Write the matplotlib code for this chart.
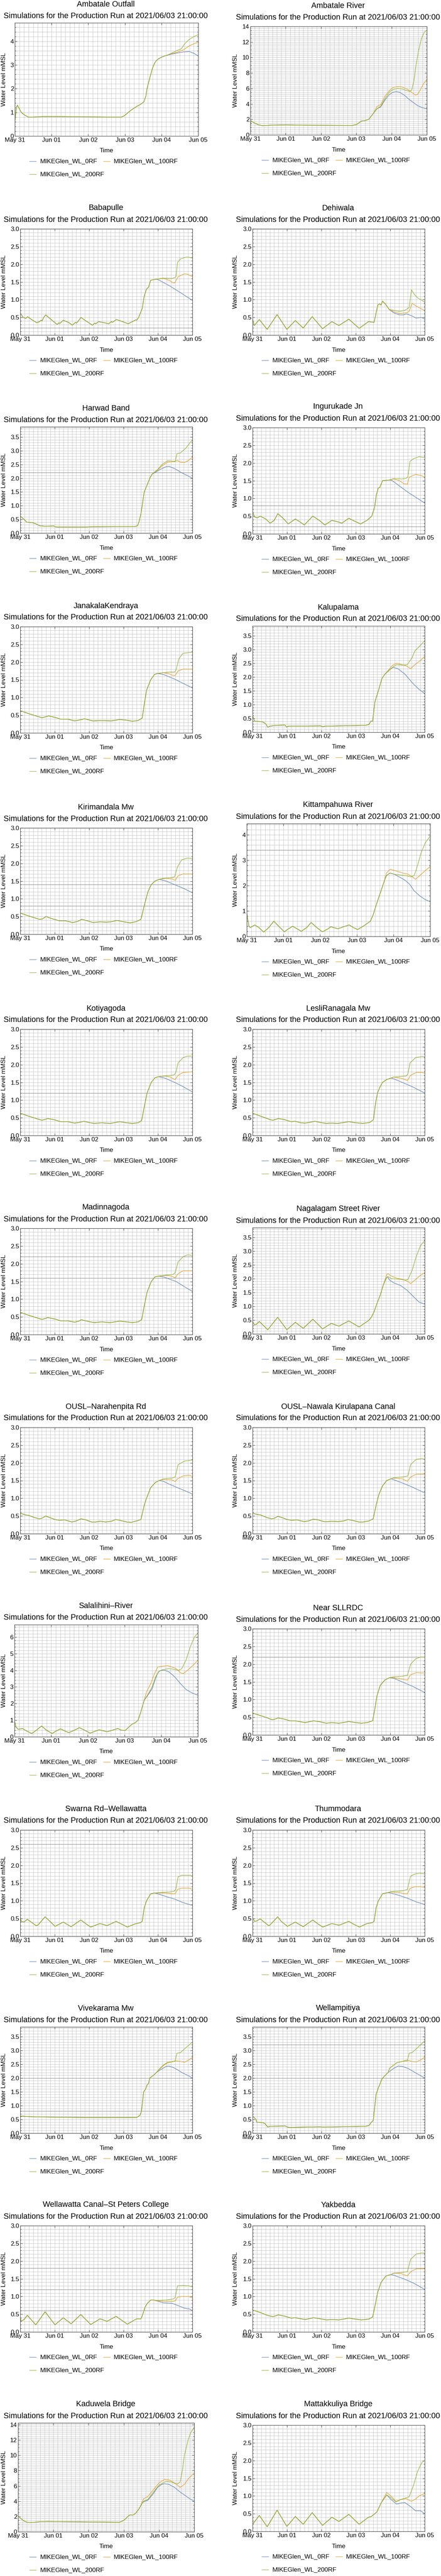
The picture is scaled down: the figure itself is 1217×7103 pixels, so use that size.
import matplotlib
matplotlib.use('Agg')
import matplotlib.pyplot as plt
from matplotlib.lines import Line2D
from matplotlib.ticker import MultipleLocator, FormatStrFormatter
import numpy as np

plt.rcParams['font.family'] = ['Liberation Sans', 'DejaVu Sans']

W, H = 1217, 7103

SUBTITLE = 'Simulations for the Production Run at 2021/06/03 21:00:00'
SERIES_LABELS = ['MIKEGlen_WL_0RF', 'MIKEGlen_WL_100RF', 'MIKEGlen_WL_200RF']
TICK_HOURS = [0, 24, 48, 72, 96, 120]
TICK_LABELS = ['May 31', 'Jun 01', 'Jun 02', 'Jun 03', 'Jun 04', 'Jun 05']

STATIONS = ['Ambatale Outfall', 'Ambatale River', 'Babapulle', 'Dehiwala',
            'Harwad Band', 'Ingurukade Jn', 'JanakalaKendraya', 'Kalupalama',
            'Kirimandala Mw', 'Kittampahuwa River', 'Kotiyagoda', 'LesliRanagala Mw',
            'Madinnagoda', 'Nagalagam Street River', 'OUSL\u2013Narahenpita Rd',
            'OUSL\u2013Nawala Kirulapana Canal', 'Salalihini\u2013River', 'Near SLLRDC',
            'Swarna Rd\u2013Wellawatta', 'Thummodara', 'Vivekarama Mw', 'Wellampitiya',
            'Wellawatta Canal\u2013St Peters College', 'Yakbedda', 'Kaduwela Bridge',
            'Mattakkuliya Bridge']

# y axis top and major tick step per station
Y_TOP = [4.78, 14, 3, 3, 3.87, 3, 3, 3.85, 3, 4.45, 3, 3, 3, 3.85, 3, 3, 6.74, 3,
         3, 3, 3.85, 3.85, 3, 3, 14.24, 3]
Y_STEP = [1, 2, 0.5, 0.5, 0.5, 0.5, 0.5, 0.5, 0.5, 1, 0.5, 0.5, 0.5, 0.5, 0.5, 0.5,
          1, 0.5, 0.5, 0.5, 0.5, 0.5, 0.5, 0.5, 2, 0.5]

# darker reference levels drawn over the grid
LEVELS = [[], [], [0.2], [], [2.2], [0.8, 0.2], [], [], [1.4, 0.8], [3.4], [1.2], [1.2],
          [2.2, 1.6], [], [], [], [], [2.2], [2.6], [], [2.0, 0.8], [3.2, 2.0],
          [1.8, 1.2, 0.6], [1.8, 1.2], [], []]

# water levels (hour since May 31 00:00, mMSL); base is shared by all three runs
ambatale_outfall_base = [(0, 0.64), (0.5, 0.9), (1.0, 1.2), (1.7, 1.3), (2.5, 1.2), (4.2, 1.0),
    (6.5, 0.88), (8.8, 0.8), (12, 0.8), (18, 0.82), (30, 0.82), (45, 0.81), (60, 0.8),
    (69.7, 0.8), (71.5, 0.85), (73.4, 0.95), (76.2, 1.1), (79.8, 1.25), (82.6, 1.35),
    (84.5, 1.45), (85.8, 1.7), (86.5, 2.0), (88.5, 2.5), (90, 2.85), (91.2, 3.05),
    (92.5, 3.18), (94, 3.26), (96, 3.33), (98, 3.38), (100, 3.42)]
ambatale_outfall_0rf = [(105.7, 3.5), (110.3, 3.55), (114, 3.57), (117, 3.5), (120, 3.38)]
ambatale_outfall_100rf = [(101, 3.45), (106.6, 3.55), (109.8, 3.62), (114, 3.8), (117.2, 3.9), (120, 3.96)]
ambatale_outfall_200rf = [(102, 3.48), (105.7, 3.6), (108.9, 3.68), (111.2, 3.9), (114, 4.07),
    (117.2, 4.2), (120, 4.28)]

ambatale_river_base = [(0, 1.0), (0.3, 1.8), (3.2, 1.5), (5.5, 1.3), (8, 1.2), (10.8, 1.22),
    (17.6, 1.28), (24.3, 1.3), (36.8, 1.25), (69.4, 1.22), (72.3, 1.35), (75.6, 1.8),
    (78, 1.85), (80.4, 2.0), (83.3, 2.7)]
ambatale_river_0rf = [(86.2, 3.4), (88.6, 3.6), (91.5, 4.5), (94.4, 5.2), (96.8, 5.5), (99.2, 5.6),
    (101.6, 5.5), (104.9, 5.1), (107.8, 4.6), (110.7, 4.2), (113.6, 3.8), (116.4, 3.55), (120, 3.35)]
ambatale_river_100rf = [(86.2, 3.7), (88.6, 3.9), (91.5, 5.0), (94.4, 5.7), (96.8, 6.1), (100.1, 6.25),
    (103, 6.2), (106.8, 5.9), (109.7, 5.5), (112.1, 5.15), (113.6, 5.2), (115.5, 5.8),
    (117.4, 6.5), (119.3, 7.0), (120, 7.2)]
ambatale_river_200rf = [(86.2, 3.4), (88.6, 3.7), (91.5, 4.7), (94.4, 5.5), (96.8, 5.85), (100.1, 6.0),
    (103, 5.95), (105.9, 5.75), (108.3, 5.6), (109.7, 5.8), (111.2, 7.0), (112.6, 9.0),
    (114.5, 11.0), (116.4, 12.5), (118.4, 13.3), (120, 13.5)]

babapulle_base = [(0, 0.62), (2, 0.5), (3.9, 0.47), (5.1, 0.52), (7.5, 0.45), (11.4, 0.35),
    (13.4, 0.38), (14.5, 0.42), (15.2, 0.4), (16.3, 0.5), (17.7, 0.57), (21.2, 0.45), (25.7, 0.3),
    (27, 0.35), (27.6, 0.33), (30, 0.42), (34, 0.35), (36.3, 0.28), (38.5, 0.36), (39.2, 0.34),
    (40.9, 0.42), (42.2, 0.5), (45.8, 0.4), (50.3, 0.28), (52, 0.34), (52.6, 0.32), (54.6, 0.38),
    (58.5, 0.35), (61.5, 0.32), (63.5, 0.38), (64.2, 0.36), (67, 0.44), (71.3, 0.38), (75.2, 0.32),
    (79.1, 0.4), (80.5, 0.43), (81.2, 0.42), (82.5, 0.5), (85, 0.75), (86.4, 1.1), (88, 1.3),
    (89.4, 1.35), (90.9, 1.55), (94.9, 1.58)]
babapulle_0rf = [(96.8, 1.55), (103.7, 1.4), (111.6, 1.2), (120, 0.98)]
babapulle_100rf = [(99.8, 1.6), (103.7, 1.55), (106.3, 1.48), (107.6, 1.47), (110, 1.65),
    (114.5, 1.73), (116.5, 1.72), (120, 1.65)]
babapulle_200rf = [(99.8, 1.61), (105.7, 1.6), (107.6, 1.62), (108.6, 1.65), (109.6, 2.05),
    (111.6, 2.15), (115.5, 2.2), (117.4, 2.2), (120, 2.17)]

dehiwala_base = [(0, 0.45), (1.2, 0.27), (4.7, 0.44), (10.2, 0.16), (17.1, 0.58), (23.9, 0.16),
    (29.8, 0.41), (35.3, 0.2), (41.6, 0.52), (48.8, 0.18), (55.3, 0.38), (60.2, 0.27),
    (67.1, 0.45), (74.3, 0.19), (80.8, 0.38), (84.7, 0.36), (87.3, 0.85), (88.6, 0.88),
    (89.6, 0.85), (90.6, 0.96), (93, 0.86), (95.3, 0.72)]
dehiwala_0rf = [(98.4, 0.63), (102.4, 0.57), (105.3, 0.57), (107.3, 0.6), (110.6, 0.55),
    (114.1, 0.48), (117.7, 0.5), (120, 0.45)]
dehiwala_100rf = [(98.4, 0.66), (102.4, 0.61), (107.3, 0.63), (109.2, 0.67), (111.2, 0.9),
    (114.1, 0.82), (117.1, 0.75), (120, 0.7)]
dehiwala_200rf = [(98.4, 0.7), (102.4, 0.67), (106.3, 0.7), (109.2, 0.78), (110.8, 1.28),
    (112.8, 1.15), (115.1, 1.05), (118.1, 0.98), (120, 0.93)]

harwad_band_base = [(0, 0.62), (2.6, 0.5), (4.5, 0.4), (8.4, 0.38), (10.4, 0.35), (13.4, 0.27),
    (17.3, 0.25), (23.2, 0.26), (25.1, 0.22), (46.7, 0.22), (48.7, 0.23), (80.1, 0.24),
    (81.7, 0.27), (82.7, 0.4), (84.1, 0.7), (86.4, 1.5), (88.4, 1.75), (90.3, 2.0), (91.9, 2.15)]
harwad_band_0rf = [(93.9, 2.2), (96.8, 2.3), (101.7, 2.42), (103.7, 2.43), (107.6, 2.35),
    (112.5, 2.2), (120, 2.0)]
harwad_band_100rf = [(95.8, 2.3), (98.8, 2.45), (102.7, 2.58), (106.6, 2.6), (109.6, 2.65),
    (111.6, 2.58), (114.5, 2.57), (117.4, 2.65), (120, 2.77)]
harwad_band_200rf = [(95.8, 2.32), (98.8, 2.5), (102.7, 2.63), (106.6, 2.62), (108, 2.6),
    (109.2, 2.9), (111.6, 2.92), (115.5, 3.1), (118.4, 3.3), (120, 3.38)]

ingurukade_base = [(0, 0.62), (1.4, 0.48), (3.3, 0.45), (5.3, 0.5), (9.2, 0.42), (12.2, 0.3),
    (15.1, 0.38), (17.6, 0.57), (21, 0.45), (24.9, 0.28), (29.8, 0.42), (33.3, 0.33),
    (36.1, 0.25), (39.6, 0.4), (42, 0.5), (46.5, 0.38), (50.4, 0.25), (55.3, 0.38),
    (60.2, 0.33), (62.2, 0.3), (67.1, 0.44), (71, 0.36), (75.3, 0.28), (79.8, 0.38),
    (83.1, 0.5), (85.1, 0.75), (86.3, 1.1), (87.7, 1.3), (88.6, 1.3), (90.6, 1.5), (95.5, 1.52)]
ingurukade_0rf = [(97.5, 1.5), (102.4, 1.35), (109.2, 1.15), (120, 0.87)]
ingurukade_100rf = [(98.4, 1.55), (102.4, 1.5), (105.3, 1.42), (107.9, 1.4), (109.2, 1.6),
    (113.7, 1.68), (117.1, 1.65), (120, 1.6)]
ingurukade_200rf = [(98.4, 1.56), (104.3, 1.55), (107.3, 1.57), (108.3, 1.62), (109.8, 2.05),
    (112.2, 2.12), (116.1, 2.18), (120, 2.15)]

janakala_base = [(0, 0.63), (5.5, 0.55), (13.4, 0.45), (15.3, 0.43), (19.8, 0.48), (24.2, 0.44),
    (28.1, 0.39), (33, 0.39), (37.9, 0.34), (41.8, 0.37), (44.8, 0.4), (48.7, 0.36),
    (50.7, 0.34), (56.6, 0.35), (63.4, 0.34), (69.3, 0.38), (74.2, 0.36), (78.2, 0.33),
    (82.1, 0.35), (85, 0.42), (86.4, 0.8), (88, 1.2), (90.9, 1.5), (93.5, 1.65), (95.8, 1.68)]
janakala_0rf = [(99.8, 1.65), (107.6, 1.52), (113.5, 1.4), (120, 1.27)]
janakala_100rf = [(99.8, 1.7), (103.7, 1.67), (106.6, 1.62), (108, 1.62), (110, 1.75),
    (113.5, 1.8), (120, 1.8)]
janakala_200rf = [(99.8, 1.7), (103.7, 1.72), (107.6, 1.72), (108.6, 1.78), (110.6, 2.1),
    (113.5, 2.25), (120, 2.28)]

kalupalama_base = [(0, 0.6), (1.4, 0.4), (6.3, 0.38), (7.3, 0.37), (9.2, 0.3), (10.6, 0.18),
    (12.2, 0.22), (16.1, 0.25), (22.6, 0.26), (23.9, 0.18), (24.9, 0.22), (47.5, 0.23),
    (49, 0.2), (50.4, 0.22), (78.8, 0.25), (81.2, 0.28), (82.4, 0.4), (83.7, 0.4),
    (85.3, 1.1), (87.7, 1.5), (90.2, 1.95), (92.2, 2.1)]
kalupalama_0rf = [(96.5, 2.3), (98, 2.35), (101.4, 2.3), (106.3, 2.1), (111.2, 1.8),
    (116.1, 1.55), (120, 1.4)]
kalupalama_100rf = [(97.5, 2.42), (100.4, 2.5), (104.3, 2.45), (107.3, 2.4), (110.2, 2.3),
    (113.2, 2.45), (117.1, 2.6), (120, 2.75)]
kalupalama_200rf = [(97.5, 2.35), (100.4, 2.45), (104.3, 2.43), (107.9, 2.45), (111.2, 2.7),
    (113.2, 2.95), (117.1, 3.15), (120, 3.32)]

kirimandala_base = [(0, 0.6), (5.5, 0.52), (13.4, 0.42), (15.3, 0.43), (17.9, 0.5), (21.2, 0.45),
    (27.1, 0.38), (31.4, 0.38), (36.5, 0.33), (39.9, 0.36), (42.8, 0.42), (46.7, 0.38),
    (50.7, 0.33), (55.6, 0.35), (60.5, 0.34), (64.4, 0.36), (67.4, 0.39), (72.3, 0.35),
    (76.6, 0.32), (81.1, 0.36), (84.1, 0.42), (87, 0.9), (89, 1.2), (91.3, 1.4),
    (93.9, 1.5), (96.8, 1.55)]
kirimandala_0rf = [(101.7, 1.5), (107.6, 1.4), (113.5, 1.3), (120, 1.17)]
kirimandala_100rf = [(101.7, 1.58), (105.7, 1.56), (108, 1.52), (110, 1.65), (113.5, 1.7), (120, 1.7)]
kirimandala_200rf = [(99.8, 1.58), (105.7, 1.6), (107.6, 1.62), (109.6, 1.9), (112.5, 2.1),
    (116.5, 2.15), (120, 2.14)]

kittampahuwa_base = [(0, 0.9), (1.5, 0.38), (2.4, 0.35), (5.2, 0.45), (7.9, 0.35), (11.1, 0.17),
    (14.4, 0.35), (17.7, 0.6), (20.9, 0.4), (24.6, 0.18), (27.3, 0.3), (30.1, 0.4),
    (32.9, 0.3), (35.6, 0.2), (39.3, 0.35), (42.1, 0.55), (45.8, 0.35), (49.5, 0.18),
    (53.2, 0.3), (55, 0.38), (59.6, 0.3), (63.3, 0.38), (67, 0.45), (69.8, 0.35),
    (72.5, 0.27), (76.2, 0.4), (78.1, 0.48), (80.9, 0.6), (82.7, 0.85), (84.5, 1.2),
    (87.3, 1.7), (90.1, 2.2)]
kittampahuwa_0rf = [(91.4, 2.4), (93.8, 2.5), (96.6, 2.45), (101.2, 2.3), (103.9, 2.2),
    (106.7, 2.05), (109.5, 1.8), (113.2, 1.6), (116.9, 1.45), (120, 1.37)]
kittampahuwa_100rf = [(91.4, 2.5), (93.8, 2.65), (96.6, 2.6), (102.1, 2.5), (105.8, 2.45),
    (109.5, 2.3), (110.4, 2.25), (113.2, 2.4), (116.9, 2.6), (120, 2.75)]
kittampahuwa_200rf = [(91.4, 2.4), (93.8, 2.5), (96.6, 2.45), (103.9, 2.4), (107.6, 2.35),
    (109.5, 2.4), (111.3, 2.7), (114.1, 3.3), (116.9, 3.7), (120, 3.95)]

kotiyagoda_base = [(0, 0.63), (5.5, 0.55), (13.4, 0.45), (15.3, 0.43), (19.2, 0.48), (24.2, 0.44),
    (28.1, 0.39), (33, 0.39), (37.9, 0.35), (40.9, 0.37), (44.4, 0.4), (48.7, 0.36),
    (51.7, 0.34), (56.6, 0.36), (62.5, 0.34), (69.3, 0.39), (74.2, 0.36), (78.2, 0.34),
    (82.1, 0.36), (84.6, 0.42), (86.4, 0.8), (88.4, 1.2), (91.3, 1.5), (93.9, 1.63), (96.2, 1.66)]
kotiyagoda_0rf = [(100.8, 1.62), (107.6, 1.5), (113.5, 1.38), (120, 1.23)]
kotiyagoda_100rf = [(100.8, 1.68), (104.7, 1.65), (106.6, 1.6), (108, 1.58), (110, 1.7),
    (113.5, 1.78), (120, 1.8)]
kotiyagoda_200rf = [(100.8, 1.68), (105.7, 1.7), (107.6, 1.72), (108.6, 1.8), (110, 2.05),
    (113.5, 2.2), (116.5, 2.24), (120, 2.24)]

lesli_base = [(0, 0.63), (5.3, 0.55), (12.2, 0.45), (14.1, 0.43), (18, 0.48), (22, 0.45),
    (26.9, 0.39), (29.8, 0.4), (33.7, 0.36), (36.7, 0.35), (43.5, 0.4), (48.4, 0.36),
    (51.4, 0.34), (54.3, 0.35), (59.2, 0.34), (67.1, 0.39), (72, 0.36), (76.9, 0.34),
    (81.8, 0.37), (84.3, 0.45), (85.7, 0.9), (87.1, 1.2), (88.6, 1.35), (90.6, 1.5),
    (93.5, 1.58), (96.5, 1.62)]
lesli_0rf = [(98.4, 1.6), (104.3, 1.5), (111.2, 1.38), (120, 1.2)]
lesli_100rf = [(98.4, 1.65), (103.3, 1.62), (106.3, 1.58), (107.9, 1.55), (110.2, 1.7),
    (114.1, 1.78), (118.1, 1.78), (120, 1.76)]
lesli_200rf = [(98.4, 1.65), (104.3, 1.67), (107.3, 1.68), (108.3, 1.75), (109.8, 2.05),
    (113.7, 2.2), (118.1, 2.23), (120, 2.22)]

madinnagoda_base = [(0, 0.63), (5.5, 0.55), (13.4, 0.45), (15.3, 0.43), (19.2, 0.48), (24.2, 0.44),
    (28.1, 0.39), (33, 0.39), (37.9, 0.35), (40.9, 0.38), (42.4, 0.42), (44.4, 0.4),
    (48.7, 0.36), (51.7, 0.34), (56.6, 0.36), (62.5, 0.34), (69.3, 0.38), (74.2, 0.36),
    (78.2, 0.34), (82.1, 0.36), (84.6, 0.42), (86.4, 0.8), (88.4, 1.2), (91.3, 1.5),
    (93.9, 1.63), (96.2, 1.65)]
madinnagoda_0rf = [(99.8, 1.63), (108.6, 1.5), (114.5, 1.35), (120, 1.22)]
madinnagoda_100rf = [(101.7, 1.67), (105.7, 1.65), (108, 1.6), (110, 1.72), (113.5, 1.8), (120, 1.8)]
madinnagoda_200rf = [(101.7, 1.68), (106.6, 1.7), (108, 1.75), (110, 2.05), (113.5, 2.2),
    (116.5, 2.25), (120, 2.24)]

nagalagam_base = [(0, 0.45), (1.4, 0.32), (2.7, 0.35), (4.7, 0.45), (10.6, 0.15), (17.5, 0.6),
    (23.9, 0.15), (29.8, 0.42), (35.3, 0.2), (42, 0.53), (48.8, 0.18), (54.9, 0.38),
    (60.2, 0.28), (67.1, 0.47), (74.3, 0.25), (77.9, 0.38), (80.8, 0.48), (82.8, 0.6),
    (84.7, 0.8), (86.7, 1.1), (89, 1.4), (91, 1.75)]
nagalagam_0rf = [(93, 2.0), (94.1, 2.07), (95.5, 1.95), (98.4, 1.85), (103.3, 1.75),
    (107.3, 1.6), (112.2, 1.35), (116.1, 1.15), (120, 1.08)]
nagalagam_100rf = [(93.5, 2.15), (94.5, 2.18), (96.5, 2.1), (100.4, 2.02), (104.3, 1.98),
    (108.3, 1.9), (110.2, 1.82), (113.2, 1.95), (116.5, 2.1), (120, 2.22)]
nagalagam_200rf = [(93.5, 2.05), (94.5, 2.07), (96.9, 2.0), (102.4, 1.98), (106.3, 1.95),
    (108.3, 1.97), (111.2, 2.3), (114.1, 2.8), (117.1, 3.2), (120, 3.38)]

ousl_narahenpita_base = [(0, 0.58), (3.5, 0.53), (5.5, 0.52), (10.4, 0.45), (13.4, 0.42),
    (15.3, 0.44), (17.7, 0.5), (20.2, 0.46), (24.2, 0.4), (27.1, 0.38), (31, 0.39),
    (35.9, 0.33), (38.9, 0.36), (42.4, 0.42), (45.8, 0.39), (49.7, 0.33), (52.6, 0.33),
    (55.6, 0.35), (59.5, 0.33), (63.4, 0.35), (66.4, 0.4), (69.3, 0.38), (74.2, 0.33),
    (77.2, 0.32), (81.1, 0.36), (84.1, 0.4), (86.4, 0.8), (88, 1.0), (90.9, 1.3),
    (94.3, 1.45), (96.8, 1.5)]
ousl_narahenpita_0rf = [(99.8, 1.48), (103.7, 1.4), (109.6, 1.3), (115.5, 1.2), (120, 1.12)]
ousl_narahenpita_100rf = [(99.8, 1.53), (105.7, 1.52), (108, 1.47), (109.6, 1.55), (113.5, 1.63),
    (117.4, 1.65), (120, 1.62)]
ousl_narahenpita_200rf = [(99.8, 1.55), (105.7, 1.57), (108, 1.6), (110, 1.95), (114.5, 2.05),
    (120, 2.08)]

ousl_nawala_base = [(0, 0.58), (3.5, 0.54), (5.5, 0.53), (10.4, 0.45), (13.4, 0.42), (15.3, 0.44),
    (17.7, 0.49), (20.2, 0.46), (24.2, 0.4), (27.1, 0.38), (31, 0.39), (35.9, 0.34),
    (38.9, 0.36), (42.4, 0.41), (45.8, 0.39), (49.7, 0.34), (52.6, 0.34), (55.6, 0.35),
    (59.5, 0.34), (63.4, 0.36), (66.4, 0.4), (69.3, 0.38), (74.2, 0.33), (77.2, 0.33),
    (81.1, 0.36), (84.1, 0.42), (86.1, 0.8), (88, 1.1), (90.6, 1.35), (93.5, 1.5), (96.5, 1.55)]
ousl_nawala_0rf = [(103.3, 1.45), (111.2, 1.32), (120, 1.15)]
ousl_nawala_100rf = [(98.4, 1.57), (104.3, 1.55), (107.9, 1.48), (110.2, 1.6), (114.1, 1.68), (120, 1.68)]
ousl_nawala_200rf = [(98.4, 1.58), (104.3, 1.6), (108.3, 1.63), (110.2, 1.95), (114.1, 2.1),
    (118.1, 2.12), (120, 2.1)]

salalihini_base = [(0, 0.95), (0.9, 0.6), (2.4, 0.45), (4.2, 0.48), (5.2, 0.5), (7.9, 0.35),
    (11.3, 0.2), (14.4, 0.4), (17.7, 0.65), (20.9, 0.4), (24.6, 0.2), (27.3, 0.35),
    (30.1, 0.48), (32.9, 0.35), (35.6, 0.25), (39.3, 0.4), (42.5, 0.55), (45.8, 0.4),
    (49.5, 0.22), (53.2, 0.35), (55.4, 0.42), (58.7, 0.35), (60.5, 0.3), (64.2, 0.4),
    (67.6, 0.5), (69.8, 0.4), (72.5, 0.38), (74.4, 0.55), (76.8, 0.75), (79, 0.85),
    (80.9, 1.0), (82.7, 1.5), (84.9, 2.2)]
salalihini_0rf = [(87.3, 2.5), (90.1, 2.9), (92.3, 3.5), (94.1, 3.9), (96, 4.0), (98.4, 4.0),
    (101.2, 3.9), (104.9, 3.6), (108.6, 3.2), (112.2, 2.85), (115.9, 2.65), (120, 2.5)]
salalihini_100rf = [(86.4, 2.7), (89.2, 3.2), (91.6, 3.8), (93.8, 4.2), (97.5, 4.25), (100.2, 4.28),
    (103, 4.2), (105.8, 4.1), (108.6, 3.85), (110.4, 3.8), (113.2, 4.0), (116.9, 4.3), (120, 4.6)]
salalihini_200rf = [(87.3, 2.55), (90.1, 3.0), (92.3, 3.6), (94.7, 3.95), (97.5, 4.05), (101.2, 4.1),
    (104.9, 4.05), (107.6, 4.0), (109.5, 4.1), (112.2, 4.6), (115, 5.4), (117.8, 6.0), (120, 6.25)]

sllrdc_base = [(0, 0.62), (5.3, 0.55), (9.2, 0.5), (12.2, 0.45), (14.1, 0.43), (18, 0.48),
    (22, 0.45), (25.9, 0.4), (29.8, 0.4), (36.7, 0.35), (42.5, 0.4), (47.5, 0.37),
    (51.4, 0.33), (55.3, 0.35), (60.2, 0.33), (67.1, 0.38), (72, 0.35), (75.9, 0.33),
    (79.8, 0.35), (83.7, 0.4), (85.1, 0.7), (86.7, 1.1), (89, 1.4), (92.2, 1.55), (95.5, 1.62)]
sllrdc_0rf = [(98.4, 1.6), (104.3, 1.5), (111.2, 1.38), (120, 1.2)]
sllrdc_100rf = [(98.4, 1.62), (103.3, 1.58), (107.9, 1.55), (110.2, 1.7), (114.1, 1.76), (120, 1.75)]
sllrdc_200rf = [(98.4, 1.64), (104.3, 1.66), (107.9, 1.68), (110.2, 2.0), (113.7, 2.15),
    (117.1, 2.2), (120, 2.2)]

swarna_base = [(0, 0.55), (0.6, 0.42), (2.6, 0.4), (4.9, 0.48), (11, 0.3), (12.4, 0.32),
    (17.3, 0.55), (21.2, 0.4), (24.2, 0.28), (30, 0.4), (35.4, 0.27), (42.2, 0.46),
    (45.8, 0.35), (49.1, 0.26), (55.6, 0.36), (60.5, 0.3), (66.8, 0.42), (70.3, 0.35),
    (74.6, 0.26), (80.1, 0.35), (83.5, 0.38), (85, 0.42), (86.4, 0.8), (88, 1.0),
    (90.9, 1.2), (93.5, 1.22)]
swarna_0rf = [(95.8, 1.2), (101.7, 1.12), (107.6, 1.05), (113.5, 0.95), (120, 0.87)]
swarna_100rf = [(95.8, 1.22), (101.7, 1.22), (106.1, 1.2), (108, 1.2), (109.6, 1.32),
    (112.5, 1.36), (117.4, 1.36), (120, 1.33)]
swarna_200rf = [(95.8, 1.23), (103.7, 1.25), (107.2, 1.27), (108.4, 1.32), (110, 1.68),
    (112.5, 1.72), (118.4, 1.72), (120, 1.7)]

thummodara_base = [(0, 0.52), (1.4, 0.42), (2.7, 0.43), (5.3, 0.49), (11.2, 0.3), (12.2, 0.32),
    (17.5, 0.55), (20, 0.42), (24.3, 0.28), (29.8, 0.4), (35.3, 0.27), (42, 0.46),
    (45.5, 0.35), (49, 0.26), (55.3, 0.36), (60.2, 0.31), (67.1, 0.42), (70, 0.35),
    (74.5, 0.26), (79.8, 0.36), (83.3, 0.38), (84.7, 0.42), (86.1, 0.8), (87.7, 1.0),
    (90.6, 1.2), (94.1, 1.23)]
thummodara_0rf = [(96.5, 1.22), (102.4, 1.15), (108.3, 1.07), (114.1, 0.97), (120, 0.9)]
thummodara_100rf = [(96.5, 1.25), (102.4, 1.23), (106.3, 1.2), (107.9, 1.2), (109.8, 1.35),
    (113.2, 1.4), (117.1, 1.4), (120, 1.38)]
thummodara_200rf = [(96.5, 1.26), (104.3, 1.28), (107.9, 1.32), (110.2, 1.7), (114.1, 1.77),
    (117.1, 1.78), (120, 1.76)]

vivekarama_base = [(0, 0.62), (5.5, 0.6), (25.1, 0.58), (44.8, 0.57), (81.1, 0.57), (82.1, 0.6),
    (83.5, 0.65), (84.5, 0.8), (86, 1.5), (87.4, 1.6), (88.4, 1.75), (89.4, 1.8), (90.3, 2.0),
    (92.9, 2.1), (94.9, 2.2)]
vivekarama_0rf = [(97.8, 2.3), (101.7, 2.42), (103.7, 2.43), (106.6, 2.38), (109.6, 2.3),
    (112.5, 2.2), (116.5, 2.1), (120, 2.0)]
vivekarama_100rf = [(96.8, 2.3), (99.8, 2.45), (102.7, 2.55), (105.7, 2.58), (108.6, 2.62),
    (111.6, 2.6), (114.5, 2.57), (117.4, 2.65), (120, 2.75)]
vivekarama_200rf = [(96.8, 2.32), (99.8, 2.47), (102.7, 2.57), (106.6, 2.6), (108, 2.62),
    (109.2, 2.9), (111.6, 2.92), (115.5, 3.1), (120, 3.3)]

wellampitiya_base = [(0, 0.62), (1.4, 0.55), (2.4, 0.5), (2.9, 0.4), (7.3, 0.38), (8.6, 0.35),
    (10.6, 0.22), (12.2, 0.25), (22.9, 0.26), (24.3, 0.22), (25.9, 0.21), (47.5, 0.23),
    (49, 0.22), (78.8, 0.25), (81.2, 0.28), (82.8, 0.4), (84.1, 0.45), (86.1, 1.4),
    (87.7, 1.65), (88.6, 1.75), (90, 1.95), (91.6, 2.05), (94.5, 2.2)]
wellampitiya_0rf = [(98.4, 2.35), (101.4, 2.43), (104.3, 2.42), (108.3, 2.35), (113.2, 2.2), (120, 2.0)]
wellampitiya_100rf = [(95.5, 2.35), (100.4, 2.55), (104.3, 2.6), (107.3, 2.65), (111.2, 2.6),
    (114.1, 2.58), (117.1, 2.65), (120, 2.76)]
wellampitiya_200rf = [(95.5, 2.35), (100.4, 2.55), (104.3, 2.6), (107.9, 2.62), (109.2, 2.9),
    (111.2, 2.92), (115.1, 3.1), (119.1, 3.3), (120, 3.35)]

wellawatta_base = [(0, 0.4), (0.6, 0.3), (2.6, 0.35), (4.9, 0.47), (10.8, 0.2), (17.3, 0.57),
    (24.2, 0.2), (30, 0.4), (35.4, 0.23), (42.2, 0.49), (49.1, 0.21), (55.6, 0.37),
    (60.5, 0.3), (66.8, 0.44), (74.6, 0.22), (81.1, 0.37), (84.1, 0.37), (85, 0.45),
    (87, 0.7), (88.4, 0.8), (90.9, 0.9), (92.9, 0.9)]
wellawatta_0rf = [(94.9, 0.88), (99.8, 0.82), (105.7, 0.81), (109.6, 0.75), (114.5, 0.67),
    (117.8, 0.65), (120, 0.6)]
wellawatta_100rf = [(94.9, 0.88), (101.7, 0.86), (106.6, 0.86), (108, 0.88), (109.6, 0.98),
    (112.5, 1.0), (117.4, 1.0), (120, 0.96)]
wellawatta_200rf = [(94.9, 0.89), (101.7, 0.9), (106.6, 0.93), (108, 0.97), (109.6, 1.3),
    (113.5, 1.31), (117.4, 1.3), (120, 1.27)]

yakbedda_base = [(0, 0.62), (5.3, 0.55), (10.2, 0.47), (14.1, 0.43), (18, 0.48), (22, 0.45),
    (26.9, 0.39), (29.8, 0.4), (36.7, 0.35), (42.5, 0.4), (47.5, 0.37), (51.4, 0.34),
    (55.3, 0.35), (60.2, 0.34), (67.1, 0.39), (72, 0.36), (75.9, 0.34), (80.8, 0.36),
    (83.7, 0.42), (85.7, 0.8), (87.1, 1.1), (89.6, 1.4), (93, 1.58), (96.5, 1.62)]
yakbedda_0rf = [(98.4, 1.6), (105.3, 1.5), (112.2, 1.38), (120, 1.2)]
yakbedda_100rf = [(98.4, 1.66), (103.3, 1.65), (107.9, 1.58), (110.2, 1.7), (114.1, 1.78), (120, 1.78)]
yakbedda_200rf = [(98.4, 1.66), (104.3, 1.68), (107.9, 1.7), (110.2, 2.05), (114.1, 2.2),
    (118.1, 2.23), (120, 2.22)]

kaduwela_base = [(0, 2.07), (2.05, 1.7), (4.1, 1.4), (6.2, 1.25), (8.2, 1.22), (11.5, 1.25),
    (14.8, 1.32), (20.5, 1.35), (28.8, 1.32), (45.2, 1.3), (65.8, 1.25), (69, 1.25),
    (71.1, 1.4), (72.7, 1.6), (74.8, 2.0), (76, 2.2), (78.5, 2.2), (80.5, 2.5), (83, 3.2)]
kaduwela_0rf = [(84.7, 3.8), (86.3, 4.0), (88.3, 4.1), (92.2, 5.0), (95, 5.8), (97.9, 6.2),
    (99.8, 6.28), (102.7, 6.2), (106.6, 5.8), (110.4, 5.2), (114.2, 4.7), (117.1, 4.3), (120, 4.0)]
kaduwela_100rf = [(85.4, 4.3), (88.3, 4.6), (92.2, 5.5), (96, 6.4), (99.8, 6.85), (102.7, 6.8),
    (105.6, 6.5), (108.5, 6.1), (110.4, 5.8), (113.3, 6.2), (116.2, 7.0), (120, 7.7)]
kaduwela_200rf = [(85.4, 4.0), (88.3, 4.2), (92.2, 5.2), (96, 6.1), (100.8, 6.6), (103.7, 6.55),
    (106.6, 6.35), (108.5, 6.25), (110.4, 6.5), (111.9, 8.0), (113.3, 10.0), (115.8, 12.0),
    (117.7, 13.0), (120, 13.7)]

mattakkuliya_base = [(0, 0.2), (4.7, 0.45), (10.2, 0.13), (17.1, 0.6), (23.9, 0.14), (29.8, 0.42),
    (35.3, 0.2), (41.6, 0.53), (48.8, 0.17), (55.3, 0.4), (60.2, 0.28), (67.1, 0.48),
    (74.3, 0.2), (80.8, 0.4), (82.8, 0.42), (86.7, 0.55), (89.6, 0.8)]
mattakkuliya_0rf = [(93.5, 1.03), (96.5, 0.9), (100.4, 0.77), (103.3, 0.8), (106.3, 0.81),
    (110.2, 0.7), (113.7, 0.58), (117.1, 0.58), (120, 0.5)]
mattakkuliya_100rf = [(93.5, 1.1), (96.5, 1.0), (100, 0.85), (103.3, 0.9), (106.9, 0.93),
    (110.6, 0.85), (113.2, 0.9), (116.1, 1.0), (120, 1.07)]
mattakkuliya_200rf = [(93.5, 1.03), (96.5, 0.95), (100, 0.83), (103.3, 0.9), (107.3, 0.95),
    (109.2, 0.98), (112.2, 1.3), (115.1, 1.7), (118.1, 1.95), (120, 2.0)]

DATA = [
    (ambatale_outfall_base, ambatale_outfall_0rf, ambatale_outfall_100rf, ambatale_outfall_200rf),
    (ambatale_river_base, ambatale_river_0rf, ambatale_river_100rf, ambatale_river_200rf),
    (babapulle_base, babapulle_0rf, babapulle_100rf, babapulle_200rf),
    (dehiwala_base, dehiwala_0rf, dehiwala_100rf, dehiwala_200rf),
    (harwad_band_base, harwad_band_0rf, harwad_band_100rf, harwad_band_200rf),
    (ingurukade_base, ingurukade_0rf, ingurukade_100rf, ingurukade_200rf),
    (janakala_base, janakala_0rf, janakala_100rf, janakala_200rf),
    (kalupalama_base, kalupalama_0rf, kalupalama_100rf, kalupalama_200rf),
    (kirimandala_base, kirimandala_0rf, kirimandala_100rf, kirimandala_200rf),
    (kittampahuwa_base, kittampahuwa_0rf, kittampahuwa_100rf, kittampahuwa_200rf),
    (kotiyagoda_base, kotiyagoda_0rf, kotiyagoda_100rf, kotiyagoda_200rf),
    (lesli_base, lesli_0rf, lesli_100rf, lesli_200rf),
    (madinnagoda_base, madinnagoda_0rf, madinnagoda_100rf, madinnagoda_200rf),
    (nagalagam_base, nagalagam_0rf, nagalagam_100rf, nagalagam_200rf),
    (ousl_narahenpita_base, ousl_narahenpita_0rf, ousl_narahenpita_100rf, ousl_narahenpita_200rf),
    (ousl_nawala_base, ousl_nawala_0rf, ousl_nawala_100rf, ousl_nawala_200rf),
    (salalihini_base, salalihini_0rf, salalihini_100rf, salalihini_200rf),
    (sllrdc_base, sllrdc_0rf, sllrdc_100rf, sllrdc_200rf),
    (swarna_base, swarna_0rf, swarna_100rf, swarna_200rf),
    (thummodara_base, thummodara_0rf, thummodara_100rf, thummodara_200rf),
    (vivekarama_base, vivekarama_0rf, vivekarama_100rf, vivekarama_200rf),
    (wellampitiya_base, wellampitiya_0rf, wellampitiya_100rf, wellampitiya_200rf),
    (wellawatta_base, wellawatta_0rf, wellawatta_100rf, wellawatta_200rf),
    (yakbedda_base, yakbedda_0rf, yakbedda_100rf, yakbedda_200rf),
    (kaduwela_base, kaduwela_0rf, kaduwela_100rf, kaduwela_200rf),
    (mattakkuliya_base, mattakkuliya_0rf, mattakkuliya_100rf, mattakkuliya_200rf),
]

# ---- layout (pixels) ----
TITLE_Y = [13, 16, 574, 574, 1126, 1122, 1671, 1675, 2226, 2220, 2781, 2781, 3330, 3334,
           3879, 3879, 4428, 4434, 4989, 4989, 5538, 5538, 6080, 6080, 6630, 6630]
BOX_OVERRIDE = {0: (41, 63, 547, 375), 1: (691, 73, 1178, 372), 9: (681, 2271, 1187, 2582),
                16: (40, 4480, 546, 4789), 24: (50, 6681, 536, 6981)}
COL_X = [(56, 531), (697, 1172)]
TITLE_X = [292, 933]
YLAB_X = [11, 650]
LEG_X = [(82, 111, 286, 314), (723, 752, 927, 955)]
COLORS = ['#5E81B5', '#E19C24', '#8FB032']

TS = 12.3   # tick font
LS = 12.6   # label / legend font
TT = 15.6   # title font

fig = plt.figure(figsize=(W / 100, H / 100), dpi=100)
fig.patch.set_facecolor('white')


def fx(x):
    return x / W


def fy(y):
    return 1 - y / H


for i, name in enumerate(STATIONS):
    col = i % 2
    ytop = Y_TOP[i]
    if i in BOX_OVERRIDE:
        l, t, r, b = BOX_OVERRIDE[i]
    else:
        l, r = COL_X[col]
        if ytop <= 3.0:
            t, b = TITLE_Y[i] + 57, TITLE_Y[i] + 350
        else:
            t, b = TITLE_Y[i] + 51, TITLE_Y[i] + 344

    ax = fig.add_axes([fx(l), fy(b), (r - l) / W, (b - t) / H])
    ax.set_xlim(0, 120)
    ax.set_ylim(0, ytop)

    step = Y_STEP[i]
    gstep = {0.5: 0.1, 1: 0.2, 2: 0.25}[step]
    mstep = {0.5: 0.1, 1: 0.2, 2: 0.5}[step]
    ax.vlines(np.arange(0, 121, 3), 0, ytop, color='#bcbcbc', lw=0.6, zorder=0)
    ax.hlines(np.arange(0, ytop + 1e-9, gstep), 0, 120, color='#bcbcbc', lw=0.6, zorder=0)
    for lev in LEVELS[i]:
        ax.axhline(lev, color='#8c8c8c', lw=0.9, zorder=0.5)

    base, s0, s100, s200 = DATA[i]
    for tail, c in zip((s0, s100, s200), COLORS):
        pts = base + tail
        tt = [p[0] for p in pts]
        vv = [p[1] for p in pts]
        ax.plot(tt, vv, color=c, lw=1.2, alpha=0.85, solid_joinstyle='round', zorder=2)

    ax.set_xticks(TICK_HOURS)
    ax.set_xticklabels(TICK_LABELS)
    ax.yaxis.set_major_locator(MultipleLocator(step))
    ax.yaxis.set_minor_locator(MultipleLocator(mstep))
    ax.yaxis.set_major_formatter(FormatStrFormatter('%.1f' if step == 0.5 else '%d'))
    ax.tick_params(which='both', direction='in', top=True, right=True, colors='#333333',
                   labelcolor='black', width=0.8)
    ax.tick_params(which='major', length=4.5)
    ax.tick_params(which='minor', length=2.2)
    ax.tick_params(axis='x', labelsize=TS, pad=3.2)
    ax.tick_params(axis='y', labelsize=TS, pad=2.0)
    for sp in ax.spines.values():
        sp.set_color('#3a3a3a')
        sp.set_linewidth(0.9)

    # titles and axis labels
    fig.text(fx(TITLE_X[col]), fy(TITLE_Y[i]), name, ha='center', va='center', fontsize=TT)
    fig.text(fx(TITLE_X[col]), fy(TITLE_Y[i] + 32), SUBTITLE, ha='center', va='center', fontsize=TT)
    fig.text(fx((l + r) / 2), fy(b + 41), 'Time', ha='center', va='center', fontsize=LS)
    fig.text(fx(YLAB_X[col]), fy((t + b) / 2), 'Water Level mMSL', ha='center', va='center',
             rotation=90, fontsize=LS)

    # legend
    x1, xt1, x2, xt2 = LEG_X[col]
    entries = [(x1, xt1, b + 70), (x2, xt2, b + 70), (x1, xt1, b + 106)]
    for (lx, tx, ly), c, lab in zip(entries, COLORS, SERIES_LABELS):
        fig.add_artist(Line2D([fx(lx), fx(lx + 18)], [fy(ly), fy(ly)], color=c, lw=1.2, alpha=0.75))
        fig.text(fx(tx), fy(ly), lab, ha='left', va='center', fontsize=LS)

fig.savefig('out.png', dpi=100)
